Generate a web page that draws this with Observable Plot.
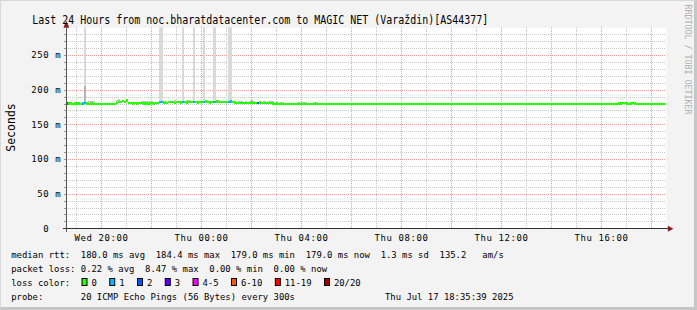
<!DOCTYPE html>
<html><head><meta charset="utf-8">
<script src="https://cdn.jsdelivr.net/npm/d3@7"></script>
<script src="https://cdn.jsdelivr.net/npm/@observablehq/plot@0.6"></script>
<style>
html,body{margin:0;padding:0;background:#f3f3f3;}
#wrap{position:relative;width:697px;height:310px;overflow:hidden;}
#wrap svg{position:absolute;left:0;top:0;}
#shade{position:absolute;left:0;top:0;width:697px;height:310px;box-sizing:border-box;border-left:1px solid #d8d8d8;border-top:1px solid #d8d8d8;border-right:3px solid #c6c6c6;border-bottom:3px solid #c6c6c6;pointer-events:none;}
</style></head><body><div id="wrap"><div id="shade"></div></div>
<script>
// ---------- data ----------
const title = "Last 24 Hours from noc.bharatdatacenter.com to MAGIC NET (Varaždin)[AS44377]";
const yAxisTitle = "Seconds";
const watermark = "RRDTOOL / TOBI OETIKER";
const startHour = 18 + 35/60 + 39/3600;   // Wed 18:35:39
const firstStep = 18 + 35/60;             // first 5-min step
const stepMinutes = 5;

// median rtt (ms), one value per 5-minute step
const median = [
 180.0,180.2,180.1,179.9,180.0,180.1,180.0,179.8,180.0,180.6,180.1,179.9,
 180.0,179.8,179.2,179.0,179.1,179.3,179.0,179.1,179.1,179.2,179.0,179.4,
 181.0,182.5,181.8,183.6,182.0,184.4,181.2,180.6,180.2,180.4,180.0,180.3,
 180.5,180.1,180.2,179.8,180.0,180.4,180.2,180.6,180.8,181.8,182.2,181.6,
 181.2,181.9,182.4,181.7,181.3,181.8,182.0,181.5,182.3,181.9,181.4,181.7,
 182.1,182.6,181.8,181.5,182.0,181.7,182.2,182.8,182.0,181.6,181.9,182.4,
 183.0,182.1,181.8,182.0,182.3,181.7,182.5,183.1,182.2,181.4,181.0,181.2,
 180.8,181.3,181.1,180.9,181.2,181.5,181.0,180.8,181.3,181.6,181.0,180.7,
 180.9,181.1,180.6,180.2,179.8,180.0,179.7,179.9,179.6,179.8,179.5,179.7,
 179.6,179.4,179.5,179.1,179.5,179.6,179.4,179.5,179.7,179.5,179.3,179.1,
 179.2,179.5,179.6,179.4,179.5,179.3,179.6,179.5,179.4,179.7,179.5,179.4,
 179.6,179.5,179.3,179.5,179.4,179.6,179.5,179.7,179.4,179.5,179.6,179.4,
 179.5,179.3,179.5,179.6,179.4,179.5,179.7,179.5,179.4,179.1,179.0,179.2,
 179.5,179.4,179.6,179.5,179.2,179.1,179.3,179.5,179.6,179.4,179.5,179.3,
 179.1,179.2,179.5,179.4,179.6,179.5,179.4,179.5,179.6,179.4,179.5,179.3,
 179.5,179.6,179.4,179.5,179.3,179.5,179.6,179.4,179.5,179.7,179.5,179.4,
 179.3,179.5,179.6,179.4,179.5,179.4,179.6,179.5,179.3,179.5,179.4,179.6,
 179.5,179.4,179.6,179.5,179.3,179.5,179.4,179.6,179.5,179.4,179.5,179.6,
 179.4,179.5,179.3,179.6,179.5,179.4,179.5,179.6,179.4,179.5,179.3,179.5,
 179.6,179.4,179.5,179.5,179.4,179.6,179.5,179.3,179.5,179.4,179.6,179.5,
 179.4,179.5,179.6,179.4,179.5,179.3,179.5,179.6,179.4,179.5,179.5,179.4,
 179.6,179.5,179.4,179.5,179.7,179.5,179.6,179.4,179.5,179.6,179.5,179.4,
 179.7,180.0,180.2,180.4,180.3,180.1,179.9,180.2,180.4,180.1,179.8,179.6,
 179.5,179.4,179.6,179.5,179.3,179.5,179.4,179.3,179.2,179.1,179.0,179.0
];

// lost pings (of 20) per step where loss occurred
const lossIdx   = [0, 8, 9, 45, 46, 56, 61, 66, 71, 78, 79, 92];
const lossCount = [2, 1, 1, 1,  1,  1,  1,  1,  1,  1,  1,  2];

// smoke: off-scale spikes (top of ping spread, ms)
const spikeIdx = [9, 45, 46, 56, 61, 66, 71, 78, 79];
const spikeTop = [290, 290, 290, 290, 290, 290, 290, 290, 290];
// darker inner smoke band
const midSmokeIdx = [9];
const midSmokeTop = [206];
// small visible smoke just above the median
const smokeIdx = [11, 12, 13, 24, 25, 36, 37, 38, 39, 40, 41, 52, 58, 59, 73, 81, 83, 84, 86, 88, 89, 90, 93, 95, 97, 98, 99, 103, 104, 111, 112, 113, 114, 115, 119, 120];
const smokeTop = [183.5,184,183,185.5,186,183.5,184,183.8,184.2,183.6,183.2,184.5,184.8,185,185,183.5,184,184.2,183.8,184,184.5,183.5,184.2,183.6,183.8,183.6,183.2,182,182.2,182.5,182.8,182.4,182.2,182,182,181.8];

const yTicks = [0, 50, 100, 150, 200, 250];
const xTicks = [20, 24, 28, 32, 36, 40];
const lossLevels = ["0", "1", "2", "3", "4-5", "6-10", "11-19", "20/20"];
const lossColors = ["#26ff00", "#00b8ff", "#0059ff", "#5e00ff", "#ff00ff", "#ff5500", "#ff0000", "#a10000"];

const statsLine = "median rtt:  180.0 ms avg  184.4 ms max  179.0 ms min  179.0 ms now  1.3 ms sd  135.2   am/s";
const lossLine  = "packet loss: 0.22 % avg  8.47 % max  0.00 % min  0.00 % now";
const colorLine = "loss color:";
const probeLine = "probe:       20 ICMP Echo Pings (56 Bytes) every 300s";
const dateLine  = "Thu Jul 17 18:35:39 2025";

// ---------- build ----------
const stepH = stepMinutes / 60;
const lossBand = n => n === 0 ? 0 : n === 1 ? 1 : n === 2 ? 2 : n === 3 ? 3 : n <= 5 ? 4 : n <= 10 ? 5 : n < 20 ? 6 : 7;
const steps = median.map((m, i) => ({t0: firstStep + i * stepH, t1: firstStep + (i + 1) * stepH, m, loss: 0}));
lossIdx.forEach((k, j) => { steps[k].loss = lossCount[j]; });
const spikes = spikeIdx.map((k, j) => ({...steps[k], top: spikeTop[j]}));
const mids = midSmokeIdx.map((k, j) => ({...steps[k], top: midSmokeTop[j]}));
const smokes = smokeIdx.map((k, j) => ({...steps[k], top: smokeTop[j]}));

const yMax = 290;
const minorX = d3.range(19, 43).filter(h => h % 2 !== 0);
const majorX = d3.range(20, 43, 2);
const minorY = d3.range(10, yMax, 10).filter(v => v % 50 !== 0);
const majorY = d3.range(50, yMax, 50);

const W = 697, H = 310, mL = 65.854, plotW = 600;
const mono = "'DejaVu Sans Mono', monospace";
const crisp = {shapeRendering: "crispEdges"};

const plot = Plot.plot({
  width: W, height: H,
  marginLeft: mL, marginRight: W - mL - plotW, marginTop: 27.3, marginBottom: 81.7,
  style: {background: "transparent", fontFamily: mono, fontSize: "9px", color: "#000", overflow: "visible"},
  x: {domain: [startHour, startHour + 24]},
  y: {domain: [0, yMax]},
  color: {type: "identity"},
  marks: [
    Plot.frame({fill: "white", stroke: "none"}),
    Plot.ruleX(minorX, {stroke: "#c8c8c8", strokeDasharray: "1,1", ...crisp}),
    Plot.ruleY(minorY, {stroke: "#c8c8c8", strokeDasharray: "1,1", ...crisp}),
    Plot.ruleX(majorX, {stroke: "#ec9c9c", strokeDasharray: "1,1", ...crisp}),
    Plot.ruleY(majorY, {stroke: "#ec9c9c", strokeDasharray: "1,1", ...crisp}),
    Plot.rect(spikes, {x1: "t0", x2: "t1", y1: "m", y2: "top", fill: "#d9d9d9", clip: true, ...crisp}),
    Plot.rect(mids, {x1: "t0", x2: "t1", y1: "m", y2: "top", fill: "#b4b4b4", clip: true, ...crisp}),
    Plot.rect(smokes, {x1: "t0", x2: "t1", y1: "m", y2: "top", fill: "#c2c2c2", clip: true, ...crisp}),
    Plot.rect(steps, {x1: "t0", x2: "t1", y1: d => d.m - 1.6, y2: d => d.m + 1.6,
      fill: d => lossColors[lossBand(d.loss)], clip: true, ...crisp}),
    Plot.axisX({ticks: xTicks, tickSize: 0, tickPadding: 6, label: null, fontSize: 9,
      tickFormat: h => (h < 24 ? "Wed" : "Thu") + " " + String(h % 24).padStart(2, "0") + ":00"}),
    Plot.axisY({ticks: yTicks, tickSize: 0, tickPadding: 5, label: null, fontSize: 9,
      tickFormat: v => v === 0 ? "0\u00a0\u00a0" : `${v} m`})
  ]
});

document.getElementById("wrap").insertBefore(plot, document.getElementById("shade"));

const svg = d3.select(plot);
svg.selectAll('g[aria-label="x-axis tick label"] text, g[aria-label="y-axis tick label"] text')
  .style("letter-spacing", "0.58px");

const sx = plot.scale("x"), sy = plot.scale("y");
const x0 = sx.apply(startHour) + 0.5, x1 = sx.apply(startHour + 24) + 0.5;
const y0 = sy.apply(0) + 0.5, yTop = sy.apply(yMax) + 0.5;
const deco = svg.append("g");
// axis lines
deco.append("line").attr("x1", x0 - 3).attr("x2", x1 + 2).attr("y1", y0).attr("y2", y0)
  .attr("stroke", "#333").attr("shape-rendering", "crispEdges");
deco.append("line").attr("x1", x0).attr("x2", x0).attr("y1", y0 + 3).attr("y2", yTop)
  .attr("stroke", "#555").attr("shape-rendering", "crispEdges");
// small ticks on y axis
deco.selectAll("line.yt").data(d3.range(10, yMax, 10)).join("line").attr("class", "yt")
  .attr("x1", x0 - 2).attr("x2", x0).attr("y1", d => sy.apply(d) + 0.5).attr("y2", d => sy.apply(d) + 0.5)
  .attr("stroke", "#999").attr("shape-rendering", "crispEdges");
// arrows
deco.append("path").attr("d", `M${x1 + 1.5},${y0 - 3}L${x1 + 7},${y0}L${x1 + 1.5},${y0 + 3}Z`).attr("fill", "#8a1c1c");
deco.append("path").attr("d", `M${x0 - 3},${yTop}L${x0},${yTop - 7}L${x0 + 3},${yTop}Z`).attr("fill", "#8a1c1c");

// texts
const nb = s => s.replace(/ /g, "\u00a0");
const T = deco.append("g").attr("font-family", mono).attr("fill", "#000").attr("text-anchor", "start");
T.append("text").attr("transform", "translate(32.3,24) scale(0.779,1)").attr("font-size", 12.8).text(nb(title));
T.append("text").attr("transform", "translate(15.2,127.5) rotate(-90)").attr("text-anchor", "middle")
  .attr("font-size", 11.5).text(yAxisTitle);
T.append("text").attr("transform", "translate(684.6,4.5) rotate(90)").attr("font-size", 8.3)
  .attr("fill", "#b0b0b0").text(nb(watermark));

const lgSize = 9.6, lgScale = 0.927, adv = 5.357, lgX = 11.2;
const lineY = [257.5, 271.5, 285.5, 299.5];
[statsLine, lossLine, colorLine, probeLine].forEach((s, k) => {
  T.append("text").attr("transform", `translate(${lgX},${lineY[k]}) scale(${lgScale},1)`)
    .attr("font-size", lgSize).text(nb(s));
});
T.append("text").attr("transform", `translate(513.5,${lineY[3]}) scale(${lgScale},1)`)
  .attr("text-anchor", "end").attr("font-size", lgSize).text(nb(dateLine));

let lx = 92;
lossLevels.forEach((lab, k) => {
  T.append("rect").attr("x", lx - 10).attr("y", lineY[2] - 7).attr("width", 5).attr("height", 7)
    .attr("fill", lossColors[k]).attr("stroke", "#000").attr("stroke-width", 1);
  T.append("text").attr("transform", `translate(${lx - 0.6},${lineY[2]}) scale(${lgScale},1)`)
    .attr("font-size", lgSize).text(lab);
  lx += lab.length * adv + 22.4;
});
</script>
</body></html>
